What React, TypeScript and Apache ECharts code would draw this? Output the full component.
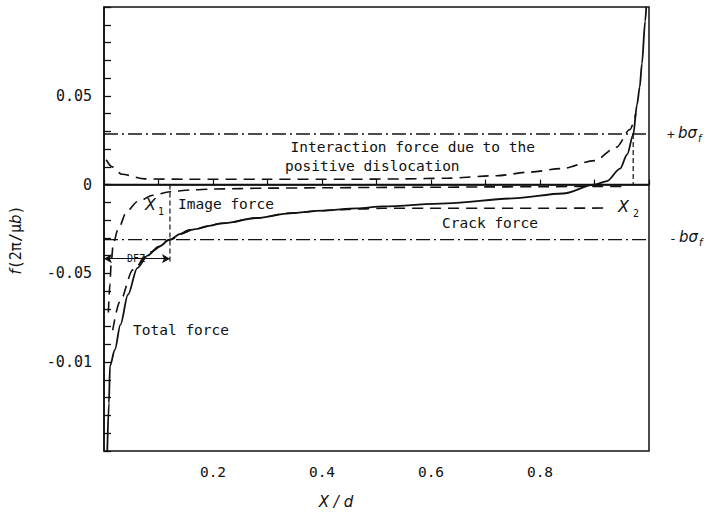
import React, { useEffect, useRef } from "react";
import * as echarts from "echarts";

// Total force (solid)
const totalX = [0.006, 0.009, 0.011, 0.02, 0.03, 0.044, 0.061, 0.08, 0.1, 0.121, 0.14, 0.165, 0.19, 0.218, 0.281, 0.341, 0.402, 0.464, 0.512, 0.629, 0.75, 0.842, 0.9, 0.923, 0.947, 0.96, 0.971, 0.978, 0.983, 0.987, 0.993, 0.995];
const totalY = [-0.15, -0.123, -0.102, -0.093, -0.079, -0.062, -0.047, -0.04, -0.035, -0.031, -0.0278, -0.0252, -0.0234, -0.0218, -0.0188, -0.0162, -0.0146, -0.0134, -0.0123, -0.0106, -0.0078, -0.005, 0, 0.002, 0.009, 0.017, 0.028, 0.045, 0.055, 0.068, 0.092, 0.1];

// Crack force (dashed)
const crackX = [0.016, 0.029, 0.053, 0.084, 0.121, 0.158, 0.218, 0.281, 0.341, 0.402, 0.464, 0.512, 0.6, 0.7, 0.8, 0.928];
const crackY = [-0.082, -0.066, -0.048, -0.038, -0.031, -0.0255, -0.0218, -0.0188, -0.016, -0.0147, -0.0137, -0.0133, -0.0133, -0.0133, -0.0133, -0.0132];

// Image force (dashed)
const imageX = [0.008, 0.011, 0.013, 0.017, 0.026, 0.042, 0.062, 0.09, 0.121, 0.16, 0.2, 0.3, 0.4, 0.5, 0.6, 0.7, 0.8, 0.9, 0.95];
const imageY = [-0.072, -0.056, -0.045, -0.033, -0.025, -0.015, -0.0095, -0.006, -0.004, -0.003, -0.0025, -0.002, -0.0018, -0.0016, -0.0015, -0.0013, -0.0012, -0.001, -0.001];

// Interaction force due to the positive dislocation (dashed)
const interX = [0.004, 0.015, 0.033, 0.075, 0.15, 0.3, 0.45, 0.55, 0.63, 0.72, 0.78, 0.84, 0.9, 0.94, 0.965, 0.976];
const interY = [0.014, 0.01, 0.0058, 0.0032, 0.003, 0.003, 0.003, 0.0032, 0.0036, 0.005, 0.007, 0.009, 0.0135, 0.021, 0.031, 0.04];

const bSigmaPlus = 0.0285;
const bSigmaMinus = -0.031;
const x1 = 0.121;
const x2 = 0.971;
const dfzY = -0.0417;

const yTickText: Record<number, string> = { 5: "0.05", 0: "0", [-5]: "-0.05", [-10]: "-0.01" };
const xTickText: Record<number, string> = { 2: "0.2", 4: "0.4", 6: "0.6", 8: "0.8" };

const zip = (xs: number[], ys: number[]) => xs.map((x, i) => [x, ys[i]]);

const MONO = "DejaVu Sans Mono";
const SANS = "DejaVu Sans";
const INK = "#111";

export default function App() {
  const ref = useRef<HTMLDivElement>(null);
  useEffect(() => {
    if (!ref.current) return;
    document.body.style.margin = "0";
    const chart = echarts.init(ref.current, null, { renderer: "svg" });
    const dashed = { color: INK, width: 1.6, type: [11, 7] as any };
    const dashDot = { color: INK, width: 1.3, type: [14, 4, 2, 4] as any };
    const lineBase = { type: "line", symbol: "none", silent: true, animation: false };
    const txt = (x: number, y: number, text: string, opts: any = {}) => ({
      type: "text",
      x,
      y,
      silent: true,
      style: {
        text,
        fill: INK,
        fontFamily: MONO,
        fontSize: 14.5,
        textVerticalAlign: "middle",
        ...opts,
      },
    });
    chart.setOption({
      animation: false,
      backgroundColor: "#fff",
      grid: {
        left: 104,
        top: 7,
        width: 545,
        height: 444,
        show: true,
        borderColor: INK,
        borderWidth: 1.5,
      },
      xAxis: {
        type: "value",
        min: 0,
        max: 1,
        interval: 0.1,
        axisLine: { lineStyle: { color: INK, width: 1.6 } },
        axisTick: { inside: true, length: 5, lineStyle: { color: INK, width: 1.2 } },
        axisLabel: {
          interval: 0,
          margin: 13,
          color: INK,
          fontFamily: MONO,
          fontSize: 14.5,
          formatter: (v: number) => xTickText[Math.round(v * 10)] ?? "",
        },
        splitLine: { show: false },
      },
      yAxis: {
        type: "value",
        min: -0.15,
        max: 0.1,
        interval: 0.01,
        axisLine: { lineStyle: { color: INK, width: 1.6 } },
        axisTick: { inside: true, length: 7, lineStyle: { color: INK, width: 1.3 } },
        axisLabel: {
          interval: 0,
          margin: 12,
          color: INK,
          fontFamily: MONO,
          fontSize: 15,
          formatter: (v: number) => yTickText[Math.round(v * 100)] ?? "",
        },
        splitLine: { show: false },
      },
      series: [
        { ...lineBase, name: "zero", data: [[0, 0], [1, 0]], lineStyle: { color: INK, width: 1.6 } },
        { ...lineBase, name: "+bσf", data: [[0, bSigmaPlus], [1, bSigmaPlus]], lineStyle: dashDot },
        { ...lineBase, name: "-bσf", data: [[0, bSigmaMinus], [1, bSigmaMinus]], lineStyle: dashDot },
        { ...lineBase, name: "X1", data: [[x1, 0], [x1, dfzY - 0.002]], lineStyle: { color: INK, width: 1.2, type: [5, 3] } },
        { ...lineBase, name: "X2", data: [[x2, bSigmaPlus], [x2, 0]], lineStyle: { color: INK, width: 1.2, type: [5, 3] } },
        {
          ...lineBase,
          name: "Total force",
          data: zip(totalX, totalY),
          smooth: 0.3,
          smoothMonotone: "x",
          lineStyle: { color: INK, width: 1.8 },
        },
        { ...lineBase, name: "Crack force", data: zip(crackX, crackY), smooth: 0.3, smoothMonotone: "x", lineStyle: dashed },
        { ...lineBase, name: "Image force", data: zip(imageX, imageY), smooth: 0.3, smoothMonotone: "x", lineStyle: dashed },
        { ...lineBase, name: "Interaction force", data: zip(interX, interY), smooth: 0.3, smoothMonotone: "x", lineStyle: dashed },
        {
          ...lineBase,
          name: "DFZ",
          data: [],
          markLine: {
            silent: true,
            symbol: ["arrow", "arrow"],
            symbolSize: [7, 8],
            lineStyle: { color: INK, width: 1.2, type: "solid" },
            label: { show: false },
            data: [[{ coord: [0, dfzY] }, { coord: [x1, dfzY] }]],
          },
        },
      ],
      graphic: [
        txt(535, 147, "Interaction force due to the", { textAlign: "right" }),
        txt(285, 166, "positive dislocation"),
        txt(178, 204, "Image force"),
        txt(442, 223, "Crack force"),
        txt(133, 330, "Total force"),
        txt(145, 204, "X", { fontFamily: SANS, fontStyle: "italic", fontSize: 16 }),
        txt(158, 211, "1", { fontSize: 10 }),
        txt(618, 206, "X", { fontFamily: SANS, fontStyle: "italic", fontSize: 16 }),
        txt(633, 213, "2", { fontSize: 10 }),
        txt(136, 258, "DFZ", { fontSize: 10, textAlign: "center", backgroundColor: "#fff", padding: [1, 2] }),
        txt(667, 134, "+", { fontSize: 13 }),
        txt(678, 133, "bσ", { fontFamily: SANS, fontStyle: "italic", fontSize: 15 }),
        txt(698, 138, "f", { fontFamily: SANS, fontStyle: "italic", fontSize: 10 }),
        txt(669, 238, "-", { fontSize: 13 }),
        txt(679, 237, "bσ", { fontFamily: SANS, fontStyle: "italic", fontSize: 15 }),
        txt(699, 242, "f", { fontFamily: SANS, fontStyle: "italic", fontSize: 10 }),
        txt(336, 502, "X / d", { fontFamily: SANS, fontStyle: "italic", fontSize: 15, textAlign: "center" }),
        {
          type: "text",
          x: 16,
          y: 240,
          rotation: Math.PI / 2,
          silent: true,
          style: {
            text: "{i|f}{n|(2π/μ}{i|b}{n|)}",
            textAlign: "center",
            textVerticalAlign: "middle",
            fill: INK,
            rich: {
              i: { fontFamily: SANS, fontStyle: "italic", fontSize: 15, fill: INK },
              n: { fontFamily: MONO, fontSize: 15, fill: INK },
            },
          },
        },
      ],
    });
    return () => chart.dispose();
  }, []);
  return <div ref={ref} style={{ width: 707, height: 513 }} />;
}
